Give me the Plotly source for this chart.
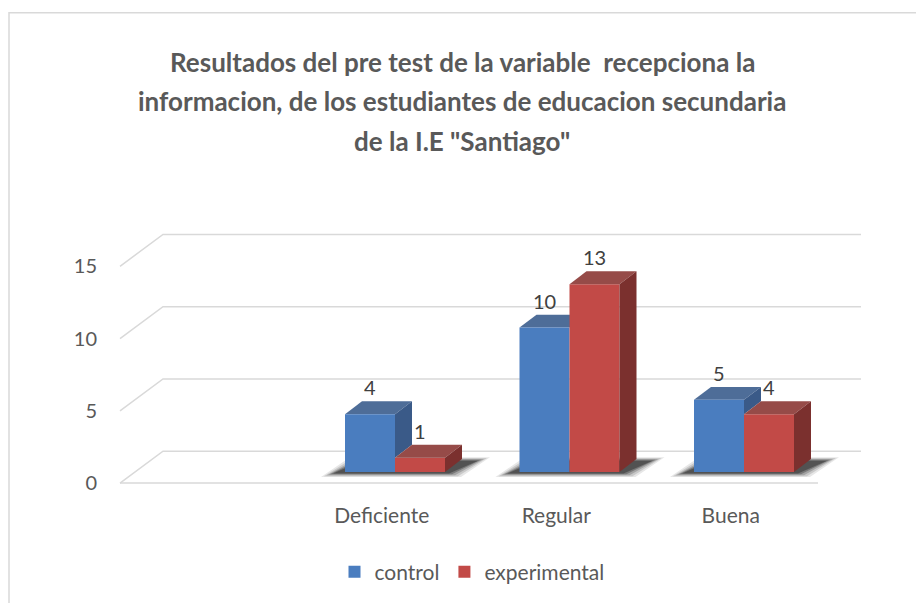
import plotly.graph_objects as go

# ---------------- data ----------------
categories = ["", "Deficiente", "Regular", "Buena"]
control = [None, 4, 10, 5]
experimental = [None, 1, 13, 4]
series_names = ["control", "experimental"]
y_ticks = [0, 5, 10, 15]
title_lines = [
    "Resultados del pre test de la variable \u00a0recepciona la",
    "informacion, de los estudiantes de educacion secundaria",
    'de la I.E "Santiago"',
]

# ---------------- layout geometry ----------------
# Targets are given in window pixels; the page body has an 8px margin.
OFF = 8
W, H = 924 - OFF, 603 - OFF


def wx(px):  # window x pixel -> figure pixel
    return px - OFF


def wy(py):
    return py - OFF


ML = wx(103)
MR = W - wx(870)
MT = wy(218)
MB = H - wy(493)
PW = W - ML - MR
PH = H - MT - MB
PX_X = 174.5   # px per category unit
PX_Y = 14.5    # px per value unit
x0 = -0.5 - (wx(120) - ML) / PX_X
x1 = x0 + PW / PX_X
y0 = -((H - MB) - wy(473)) / PX_Y
y1 = y0 + PH / PX_Y

FLOOR_DX = 43 / PX_X
BACK_DY = (473 - 452) / PX_Y
FRONT_DY = -(484 - 473) / PX_Y
BAR_SHIFT = 13.25 / PX_X
BAR_W = 50 / PX_X
BAR_DX = 17 / PX_X
BAR_DY = 13 / PX_Y

GRID = "#d9d9d9"
TXT = "#595959"
FONT = "Lato"

C_FRONT, C_TOP, C_SIDE = "#4a7dbf", "#4e6d98", "#3a5a88"
E_FRONT, E_TOP, E_SIDE = "#c24a47", "#964b48", "#7b302e"


def poly(pts):
    return "M " + " L ".join(f"{x},{y}" for x, y in pts) + " Z"


def px2paper_x(px):  # window pixel -> paper
    return (wx(px) - ML) / PW


def px2paper_y(py):
    return ((H - MB) - wy(py)) / PH


shapes = []
n = len(categories)
xl_floor, xr_floor = -0.5, n - 0.5

# gridlines (side wall + back wall)
for v in y_ticks:
    shapes.append(dict(
        type="path", layer="below", xref="x", yref="y",
        path=f"M {xl_floor},{v + FRONT_DY} L {xl_floor + FLOOR_DX},{v + BACK_DY} "
             f"L {xr_floor + FLOOR_DX},{v + BACK_DY}",
        line=dict(color=GRID, width=1.5)))
# floor front edge
shapes.append(dict(type="line", layer="below", xref="x", yref="y",
                   x0=xl_floor, y0=FRONT_DY, x1=xr_floor, y1=FRONT_DY,
                   line=dict(color=GRID, width=1.5)))

annotations = []
for i in range(n):
    c, e = control[i], experimental[i]
    if c is None or e is None:
        continue
    cl = i + BAR_SHIFT - BAR_W
    cr = i + BAR_SHIFT
    er = cr + BAR_W
    # soft shadow on the floor
    for grow, op in [(10, 0.10), (7, 0.14), (4, 0.2), (1, 0.3), (-2, 0.38)]:
        gx = grow / PX_X
        gy = grow * 0.3 / PX_Y
        shapes.append(dict(
            type="path", layer="between", xref="x", yref="y",
            path=poly([(cl - 14 / PX_X - gx, -2 / PX_Y - gy),
                       (er + 6 / PX_X + gx, -2 / PX_Y - gy),
                       (er + BAR_DX + 18 / PX_X + gx, 12 / PX_Y + gy),
                       (cl + BAR_DX - 2 / PX_X - gx, 12 / PX_Y + gy)]),
            fillcolor=f"rgba(20,20,20,{op})", line=dict(width=0)))
    # control top face
    shapes.append(dict(
        type="path", layer="between", xref="x", yref="y",
        path=poly([(cl, c), (cr, c), (cr + BAR_DX, c + BAR_DY), (cl + BAR_DX, c + BAR_DY)]),
        fillcolor=C_TOP, line=dict(width=0)))
    # control side face (portion visible above the experimental bar)
    if c > e:
        shapes.append(dict(
            type="path", layer="between", xref="x", yref="y",
            path=poly([(cr, e), (cr, c), (cr + BAR_DX, c + BAR_DY), (cr + BAR_DX, e + BAR_DY)]),
            fillcolor=C_SIDE, line=dict(width=0)))
    # experimental top and side faces
    shapes.append(dict(
        type="path", layer="above", xref="x", yref="y",
        path=poly([(cr, e), (er, e), (er + BAR_DX, e + BAR_DY), (cr + BAR_DX, e + BAR_DY)]),
        fillcolor=E_TOP, line=dict(width=0)))
    shapes.append(dict(
        type="path", layer="above", xref="x", yref="y",
        path=poly([(er, 0), (er, e), (er + BAR_DX, e + BAR_DY), (er + BAR_DX, BAR_DY)]),
        fillcolor=E_SIDE, line=dict(width=0)))
    # data labels
    for xc, v in [((cl + cr) / 2, c), ((cr + er) / 2, e)]:
        annotations.append(dict(
            x=xc, y=v + BAR_DY, xref="x", yref="y", text=str(v), showarrow=False,
            yanchor="bottom", yshift=0, font=dict(family=FONT, size=20, color="#404040")))

# chart border
shapes.append(dict(type="rect", xref="paper", yref="paper", layer="below",
                   x0=px2paper_x(9), x1=px2paper_x(940),
                   y0=px2paper_y(12), y1=px2paper_y(620),
                   line=dict(color=GRID, width=1.5), fillcolor="rgba(0,0,0,0)"))

# title lines
for line, py in zip(title_lines, [61, 101, 141]):
    annotations.append(dict(
        x=px2paper_x(462), y=px2paper_y(py), xref="paper", yref="paper",
        text=line, showarrow=False, xanchor="center", yanchor="middle",
        font=dict(family=FONT, size=26, color=TXT, weight="bold")))

fig = go.Figure()
fig.add_trace(go.Bar(
    x=list(range(n)), y=control, name=series_names[0],
    width=BAR_W, offset=BAR_SHIFT - BAR_W,
    marker=dict(color=C_FRONT, line=dict(width=0)), hoverinfo="y+name"))
fig.add_trace(go.Bar(
    x=list(range(n)), y=experimental, name=series_names[1],
    width=BAR_W, offset=BAR_SHIFT,
    marker=dict(color=E_FRONT, line=dict(width=0)), hoverinfo="y+name"))

fig.update_layout(
    width=W, height=H,
    margin=dict(l=ML, r=MR, t=MT, b=MB, pad=0),
    paper_bgcolor="white", plot_bgcolor="rgba(0,0,0,0)",
    barmode="overlay",
    font=dict(family=FONT, color=TXT),
    shapes=shapes, annotations=annotations,
    showlegend=True,
    legend=dict(orientation="h", x=px2paper_x(472), xanchor="center",
                y=px2paper_y(572), yanchor="middle",
                font=dict(family=FONT, size=21, color=TXT),
                bgcolor="rgba(0,0,0,0)"),
)
fig.update_xaxes(range=[x0, x1], tickvals=list(range(n)), ticktext=categories,
                 showgrid=False, zeroline=False, showline=False, ticks="",
                 ticklabelstandoff=9,
                 tickfont=dict(family=FONT, size=21, color=TXT), fixedrange=True)
fig.update_yaxes(range=[y0, y1], tickvals=[v + FRONT_DY for v in y_ticks],
                 ticktext=[str(v) for v in y_ticks],
                 showgrid=False, zeroline=False, showline=False, ticks="",
                 ticklabelstandoff=5,
                 tickfont=dict(family=FONT, size=20, color=TXT), fixedrange=True)

fig.write_html("out.html")
